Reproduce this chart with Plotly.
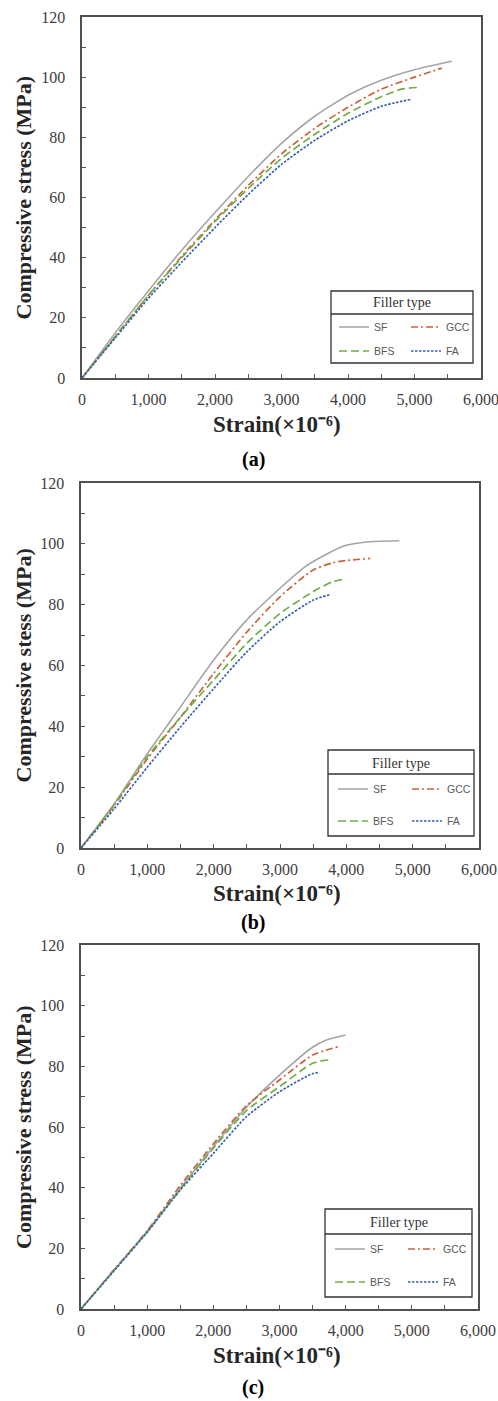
import plotly.graph_objects as go

W, H = 498, 1401

series_names = ["SF", "GCC", "BFS", "FA"]
panel_labels = ["(a)", "(b)", "(c)"]
y_titles = ["Compressive stress (MPa)", "Compressive stess (MPa)", "Compressive stress (MPa)"]
x_title = "Strain(×10⁻⁶)"
legend_title = "Filler type"
x_tickvals = [0, 1000, 2000, 3000, 4000, 5000, 6000]
y_tickvals = [0, 20, 40, 60, 80, 100, 120]

# ---- Panel (a) ----
a_sf_x = [0, 500, 1000, 1500, 2000, 2500, 3000, 3500, 4000, 4500, 5000, 5560]
a_sf_y = [0, 15, 29, 42.5, 55, 67, 78, 87, 94, 99, 102.5, 105.3]
a_gcc_x = [0, 500, 1000, 1500, 2000, 2500, 3000, 3500, 4000, 4500, 5000, 5410]
a_gcc_y = [0, 13.8, 27.5, 40.5, 52.5, 64, 74.5, 83, 90, 96, 100, 103]
a_bfs_x = [0, 500, 1000, 1500, 2000, 2500, 3000, 3500, 4000, 4500, 4800, 5060]
a_bfs_y = [0, 13.8, 27.5, 40, 52, 63, 73, 81, 88, 93.5, 96, 96.6]
a_fa_x = [0, 500, 1000, 1500, 2000, 2500, 3000, 3500, 4000, 4500, 4960]
a_fa_y = [0, 13.3, 26.5, 38.5, 50, 61, 71, 79, 85.5, 90.3, 92.7]

# ---- Panel (b) ----
b_sf_x = [0, 500, 1000, 1500, 2000, 2500, 3000, 3360, 3500, 3950, 4300, 4800]
b_sf_y = [0, 14.5, 31, 46.4, 61.8, 75, 85.4, 92.2, 94.2, 99.2, 100.6, 101]
b_gcc_x = [0, 500, 1000, 1500, 2000, 2500, 3000, 3500, 3800, 4000, 4360]
b_gcc_y = [0, 14, 29.3, 43, 57.4, 71, 82.6, 91.4, 93.8, 94.5, 95.2]
b_bfs_x = [0, 500, 1000, 1500, 2000, 2500, 3000, 3500, 3800, 3970]
b_bfs_y = [0, 14.3, 30, 43, 55.2, 67.3, 77.1, 84.3, 87.6, 88.4]
b_fa_x = [0, 500, 1000, 1500, 2000, 2500, 3000, 3500, 3770]
b_fa_y = [0, 12.9, 26.6, 39.8, 52.4, 64.5, 74.4, 81.5, 83.4]

# ---- Panel (c) ----
c_sf_x = [0, 500, 1000, 1500, 2000, 2500, 3000, 3500, 3700, 4000]
c_sf_y = [0, 12.8, 25.5, 39.8, 53.5, 66.5, 77.1, 86.3, 88.6, 90.3]
c_gcc_x = [0, 500, 1000, 1500, 2000, 2500, 3000, 3500, 3890]
c_gcc_y = [0, 13, 25.8, 40.7, 54.4, 67, 75.5, 83.7, 86.5]
c_bfs_x = [0, 500, 1000, 1500, 2000, 2500, 3000, 3500, 3770]
c_bfs_y = [0, 12.8, 25.5, 39.5, 53, 65.4, 73.3, 81, 82.3]
c_fa_x = [0, 500, 1000, 1500, 2000, 2500, 3000, 3500, 3600]
c_fa_y = [0, 12.6, 25.3, 39.2, 51.3, 63.4, 71.6, 77.6, 78]

panels = [
    [(a_sf_x, a_sf_y), (a_gcc_x, a_gcc_y), (a_bfs_x, a_bfs_y), (a_fa_x, a_fa_y)],
    [(b_sf_x, b_sf_y), (b_gcc_x, b_gcc_y), (b_bfs_x, b_bfs_y), (b_fa_x, b_fa_y)],
    [(c_sf_x, c_sf_y), (c_gcc_x, c_gcc_y), (c_bfs_x, c_bfs_y), (c_fa_x, c_fa_y)],
]

colors = ["#a5a5a5", "#c8643b", "#70ad47", "#3a62b0"]
dashes = ["solid", "7px,3px,2px,3px", "8px,4px", "2.5px,1.5px"]
widths = [1.6, 1.7, 1.7, 1.7]

# layout geometry in page pixels (left, right, top, bottom)
plot_px = [(82, 481, 17, 378), (81, 479, 483, 848), (81, 478, 945, 1309)]
legbox_px = [(331, 473, 291, 363, 314), (328, 474, 750, 836, 774), (325, 472, 1209, 1297, 1234)]
leg_title_y = [303, 763, 1222]
leg_rows_y = [(327, 351), (789, 821), (1249, 1282)]
leg_cols_x = [(339, 411), (338, 412), (335, 408)]
xtitle_y = [425, 893, 1355]
plabel_y = [460, 922, 1387]


def px2x(px):
    return px / W


def px2y(py):
    return 1 - py / H


SERIF = "Liberation Serif, Times New Roman, serif"
SANS = "Liberation Sans, Arial, sans-serif"

fig = go.Figure()
layout = dict(
    width=W, height=H, autosize=False,
    margin=dict(l=0, r=0, t=0, b=0, autoexpand=False),
    paper_bgcolor="white", plot_bgcolor="white",
    shapes=[], annotations=[],
)

legend_idx = 0
for p in range(3):
    xa = "x" if p == 0 else f"x{p+1}"
    ya = "y" if p == 0 else f"y{p+1}"
    l, r, t, b = plot_px[p]
    axis_common = dict(
        showline=True, mirror=True, linecolor="#505050", linewidth=1.6,
        showgrid=False, zeroline=False,
        ticks="inside", ticklen=4, tickcolor="#595959", tickwidth=1,
        tickfont=dict(family=SERIF, size=16, color="#404040"),
    )
    layout["xaxis" if p == 0 else f"xaxis{p+1}"] = dict(
        axis_common, domain=[px2x(l), px2x(r)], range=[0, 6000],
        tickvals=x_tickvals, tickformat=",d", anchor=ya,
        minor=dict(dtick=500, ticks="inside", ticklen=4, tickcolor="#595959", tick0=0),
        ticklabelstandoff=6, ticklabeloverflow="allow", fixedrange=True,
    )
    layout["yaxis" if p == 0 else f"yaxis{p+1}"] = dict(
        axis_common, domain=[px2y(b), px2y(t)], range=[0, 120],
        tickvals=y_tickvals, anchor=xa,
        minor=dict(dtick=10, ticks="inside", ticklen=4, tickcolor="#595959", tick0=0),
        ticklabelstandoff=12, fixedrange=True,
    )

    for s in range(4):
        xs, ys = panels[p][s]
        legend_idx += 1
        lname = "legend" if legend_idx == 1 else f"legend{legend_idx}"
        fig.add_trace(go.Scatter(
            x=xs, y=ys, mode="lines", name=series_names[s],
            line=dict(color=colors[s], dash=dashes[s], width=widths[s], shape="spline", smoothing=0.6),
            xaxis=xa, yaxis=ya, legend=lname, showlegend=True, hoverinfo="skip",
        ))
        row = s // 2
        col = s % 2
        layout[lname] = dict(
            x=px2x(leg_cols_x[p][col] - 5), xanchor="left",
            y=px2y(leg_rows_y[p][row]), yanchor="middle",
            bgcolor="rgba(0,0,0,0)", borderwidth=0,
            font=dict(family=SANS, size=10.5, color="#595959"),
            itemwidth=30,
        )

    # legend box
    bl, br, bt, bb, bh = legbox_px[p]
    layout["shapes"].append(dict(
        type="rect", xref="paper", yref="paper",
        x0=px2x(bl), x1=px2x(br), y0=px2y(bb), y1=px2y(bt),
        line=dict(color="#333333", width=1.3), fillcolor="rgba(0,0,0,0)",
    ))
    layout["shapes"].append(dict(
        type="line", xref="paper", yref="paper",
        x0=px2x(bl), x1=px2x(br), y0=px2y(bh), y1=px2y(bh),
        line=dict(color="#333333", width=1.3),
    ))
    layout["annotations"].append(dict(
        text=legend_title, xref="paper", yref="paper",
        x=px2x((bl + br) / 2), y=px2y(leg_title_y[p]),
        xanchor="center", yanchor="middle", showarrow=False,
        font=dict(family=SERIF, size=14, color="#333333"),
    ))
    # y axis title
    layout["annotations"].append(dict(
        text=y_titles[p], xref="paper", yref="paper",
        x=px2x(23), y=px2y((t + b) / 2), textangle=-90,
        xanchor="center", yanchor="middle", showarrow=False,
        font=dict(family=SERIF, size=22, color="#262626", weight="bold"),
    ))
    # x axis title
    layout["annotations"].append(dict(
        text=x_title, xref="paper", yref="paper",
        x=px2x(277), y=px2y(xtitle_y[p]),
        xanchor="center", yanchor="middle", showarrow=False,
        font=dict(family=SERIF, size=23, color="#262626", weight="bold"),
    ))
    # panel label
    layout["annotations"].append(dict(
        text=panel_labels[p], xref="paper", yref="paper",
        x=px2x(253), y=px2y(plabel_y[p]),
        xanchor="center", yanchor="middle", showarrow=False,
        font=dict(family=SERIF, size=20, color="#000000", weight="bold"),
    ))

fig.update_layout(**layout)
fig.write_html(
    "out.html",
    config={"displayModeBar": False, "staticPlot": True},
    post_script="document.body.style.margin='0';document.body.style.overflow='hidden';",
)
